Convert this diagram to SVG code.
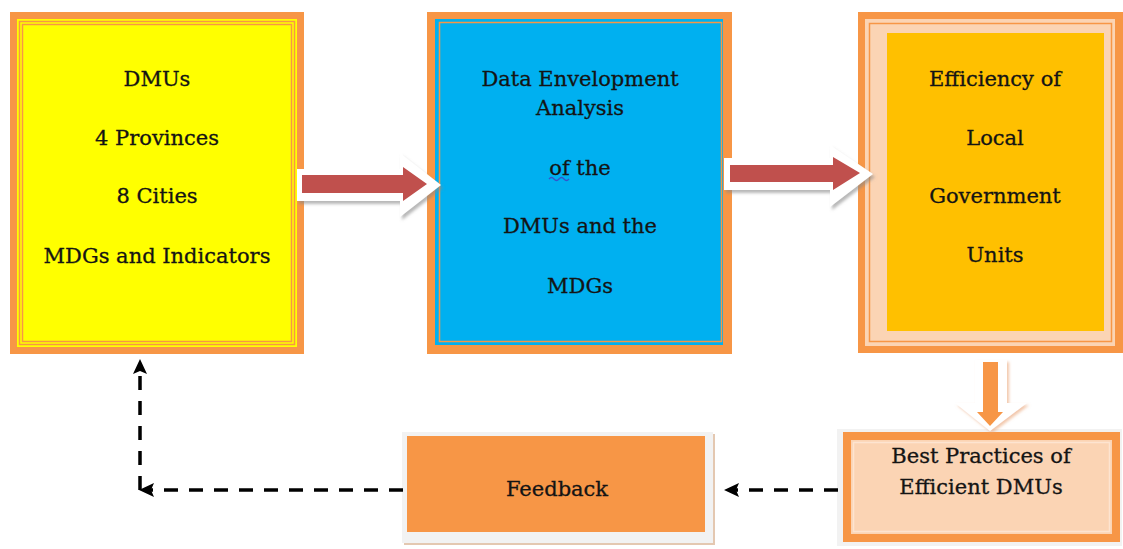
<svg xmlns="http://www.w3.org/2000/svg" width="1123" height="549" viewBox="0 0 1123 549">
<style>
.t{font-family:"DejaVu Serif","Liberation Serif",serif;font-size:21px;fill:#141414;stroke:#141414;stroke-width:0.3;text-anchor:middle}
.or{fill:#f79646}
.thin{fill:none;stroke:#f79646;stroke-width:1.5}
.dash{fill:none;stroke:#000;stroke-width:3.5;stroke-dasharray:14 11}
.head{fill:#000}
</style>
<defs>
<filter id="sh" x="-20%" y="-20%" width="140%" height="150%">
<feDropShadow dx="2" dy="3" stdDeviation="1.5" flood-color="#888" flood-opacity="0.6"/>
</filter>
<filter id="shO" x="-20%" y="-20%" width="140%" height="150%">
<feDropShadow dx="2" dy="2" stdDeviation="1.5" flood-color="#e8a070" flood-opacity="0.6"/>
</filter>
</defs>
<rect width="1123" height="549" fill="#fff"/>

<g id="node-dmus">
<rect class="or" x="10" y="12" width="294" height="342"/>
<rect x="17" y="19" width="280" height="328" fill="#ffff00"/>
<rect class="thin" x="19.5" y="21.5" width="275" height="323"/>
<rect class="thin" x="22.5" y="24.5" width="269" height="317"/>
<text class="t" x="157" y="86">DMUs</text>
<text class="t" x="157" y="145">4 Provinces</text>
<text class="t" x="157" y="203">8 Cities</text>
<text class="t" x="157" y="263">MDGs and Indicators</text>
</g>

<g id="node-dea">
<rect class="or" x="427" y="12" width="305" height="342"/>
<rect x="435" y="19" width="288" height="326" fill="#00b0f0"/>
<rect class="thin" x="439.5" y="22.5" width="282" height="319"/>
<text class="t" x="580" y="86">Data Envelopment</text>
<text class="t" x="580" y="115">Analysis</text>
<text class="t" x="580" y="175">of the</text>
<path d="M549,179 q2.5,-3 5,0 t5,0 t5,0 t5,0" fill="none" stroke="#3355cc" stroke-width="1.3"/>
<text class="t" x="580" y="233">DMUs and the</text>
<text class="t" x="580" y="293">MDGs</text>
</g>

<g id="node-efficiency">
<rect class="or" x="858" y="12" width="265" height="341"/>
<rect x="865" y="19" width="250" height="327" fill="#fbd4b4"/>
<rect class="thin" x="869.5" y="23.5" width="242" height="318"/>
<rect x="887" y="33" width="217" height="298" fill="#ffc000"/>
<text class="t" x="995" y="86">Efficiency of</text>
<text class="t" x="995" y="145">Local</text>
<text class="t" x="995" y="203">Government</text>
<text class="t" x="995" y="262">Units</text>
</g>

<g id="node-best">
<rect x="837" y="429" width="285" height="117" fill="#f2f2f2"/>
<rect class="or" x="843" y="432" width="277" height="110"/>
<rect x="851" y="440" width="261" height="94" fill="#fbd4b4"/>
<rect x="853.5" y="442.5" width="256" height="89" fill="none" stroke="#fde4d0" stroke-width="1.5"/>
<text class="t" x="981" y="463">Best Practices of</text>
<text class="t" x="981" y="494">Efficient DMUs</text>
</g>

<g id="node-feedback">
<rect x="404" y="434" width="311" height="111" fill="#d8b090" opacity="0.7"/>
<rect x="402" y="432" width="311" height="111" fill="#f2f2f2"/>
<rect class="or" x="407" y="436" width="298" height="96"/>
<text class="t" x="557" y="496">Feedback</text>
</g>

<g id="connectors">
<g filter="url(#sh)">
<polygon points="297,169 400,169 400,153 441,185 400,217 400,201 297,201" fill="#fff"/>
</g>
<polygon points="302,175 403,175 403,167 427,184 403,201 403,193 302,193" fill="#c0504d"/>
<g filter="url(#sh)">
<polygon points="724,158 830,158 830,145 873,174 830,207 830,190 724,190" fill="#fff"/>
</g>
<polygon points="730,165 833,165 833,157 860,173 833,190 833,182 730,182" fill="#c0504d"/>
<g filter="url(#shO)">
<polygon points="975,360 1007,360 1007,403 1027,403 990,431 955,403 975,403" fill="#fff"/>
</g>
<polygon points="983,362 998,362 998,412 1003,412 990,426 977,412 983,412" fill="#f79646"/>
<path class="dash" d="M838,490 H736"/>
<polygon class="head" points="724,490 739,483 736,490 739,497"/>
<path class="dash" d="M403,490 H150"/>
<polygon class="head" points="139,490 154,483 151,490 154,497"/>
<path class="dash" d="M140,490 V371"/>
<polygon class="head" points="140,359 133,374 140,371 147,374"/>
</g>
</svg>
